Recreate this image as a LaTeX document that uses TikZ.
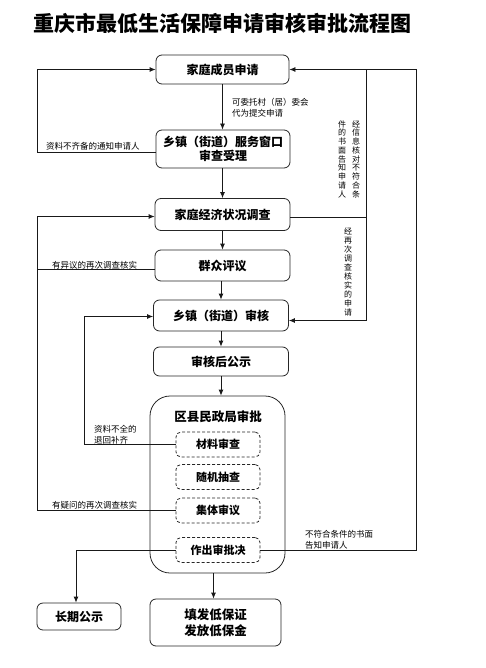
\documentclass[tikz,border=0pt]{standalone}
\usepackage{fontspec}
\setmainfont{Noto Sans CJK SC}
\usetikzlibrary{arrows.meta}
\tikzset{
 box/.style={draw=black!85, line width=0.8pt, rounded corners=6pt, align=center, inner sep=0pt,
   font=\bfseries\fontsize{12}{14}\selectfont},
 dbox/.style={draw=black!85, line width=0.8pt, dash pattern=on 3pt off 2pt, rounded corners=5pt,
   minimum width=84pt, minimum height=25pt, inner sep=0pt, font=\bfseries\fontsize{11}{13}\selectfont},
 lab/.style={font=\fontsize{8.5}{11}\selectfont, inner sep=0pt, align=left, anchor=west},
 vlab/.style={inner sep=0pt, align=center, text width=9pt},
 arr/.style={-{Latex[length=6pt,width=5pt]}, line width=0.8pt, draw=black!90},
 ln/.style={line width=0.8pt, draw=black!90}
}
\begin{document}
\begin{tikzpicture}[x=1pt,y=-1pt]
\useasboundingbox (0,0) rectangle (486,668);
\node[font=\bfseries\fontsize{21}{24}\selectfont, inner sep=0pt] (title) at (222,23) {重庆市最低生活保障申请审核审批流程图};

\node[box, minimum width=133pt, minimum height=29pt] (b1) at (222.5,69.5) {家庭成员申请};
\node[box, minimum width=134pt, minimum height=38pt] (b2) at (223,149) {乡镇（街道）服务窗口\\审查受理};
\node[box, minimum width=135pt, minimum height=32pt] (b3) at (222.5,214.5) {家庭经济状况调查};
\node[box, minimum width=135pt, minimum height=31pt] (b4) at (222.5,265.5) {群众评议};
\node[box, minimum width=135pt, minimum height=31pt] (b5) at (221,315.5) {乡镇（街道）审核};
\node[box, minimum width=135pt, minimum height=29pt] (b6) at (221,361.5) {审核后公示};
\node[draw=black!85, line width=0.8pt, rounded corners=20pt, minimum width=135pt, minimum height=177pt, inner sep=0pt] (big) at (217.5,484.5) {};
\node[font=\bfseries\fontsize{12.5}{14}\selectfont, inner sep=0pt] (bigt) at (218,417) {区县民政局审批};
\node[dbox] (d1) at (218,444.5) {材料审查};
\node[dbox] (d2) at (218,477) {随机抽查};
\node[dbox] (d3) at (218,510.5) {集体审议};
\node[dbox] (d4) at (218,550) {作出审批决};
\node[box, minimum width=84pt, minimum height=27pt] (long) at (79,616.5) {长期公示};
\node[box, minimum width=131pt, minimum height=47pt, font=\bfseries\fontsize{12.5}{16}\selectfont] (fa) at (215.5,622.5) {填发低保证\\发放低保金};

\coordinate (L1) at (37,0);
\coordinate (L3) at (84,0);
\coordinate (R1) at (366,0);
\coordinate (R2) at (416,0);

% main flow
\draw[arr] (b1.south) -- (b1.south |- b2.north);
\draw[arr] (b2.south -| b1.south) -- (b1.south |- b3.north);
\draw[arr] (b3.south) -- (b3.south |- b4.north);
\draw[arr] (b4.south -| b5.north) -- (b5.north);
\draw[arr] (b5.south) -- (b6.north);
\draw[arr] (b6.south) -- (b6.south |- big.north);
\draw[arr] ([xshift=-4pt]big.south) -- ([xshift=-4pt]big.south |- fa.north);
\draw[arr] (d4.west) -| ([xshift=-3pt]long.north);

% left loops
\draw[arr] ([yshift=-3pt]b2.west) -- ([yshift=-3pt]b2.west -| L1) |- (b1.west);
\draw[arr] (d3.west) -- (d3.west -| L1) |- ([yshift=-2pt]b3.west);
\draw[ln] ([yshift=-4pt]b4.west) -- ([yshift=-4pt]b4.west -| L1);
\draw[arr] (d1.west) -- (d1.west -| L3) |- ([yshift=-1pt]b5.west);

% right loops
\draw[arr] (d4.east) -- (d4.east -| R2) |- (b1.east);
\draw[ln] ([yshift=-3pt]b3.east) -- ([yshift=-3pt]b3.east -| R1) -- (R1 |- b1.east);
\draw[arr] ([yshift=-3pt]b3.east -| R1) |- ([yshift=-5pt]b5.east);

% labels
\node[lab] (t1) at (232,108) {可委托村（居）委会\\代为提交申请};
\node[lab] (t2) at (46,146) {资料不齐备的通知申请人};
\node[lab] (t3) at (52,265) {有异议的再次调查核实};
\node[lab] (t4) at (94,434.5) {资料不全的\\退回补齐};
\node[lab] (t5) at (52,505) {有疑问的再次调查核实};
\node[lab] (t6) at (305,539.5) {不符合条件的书面\\告知申请人};
\node[vlab, font=\fontsize{8}{8.75}\selectfont] (v1) at (356,159) {经\\信\\息\\核\\对\\不\\符\\合\\条};
\node[vlab, font=\fontsize{8}{8.75}\selectfont] (v2) at (342,159) {件\\的\\书\\面\\告\\知\\申\\请\\人};
\node[vlab, font=\fontsize{8}{9.1}\selectfont] (v3) at (348,272) {经\\再\\次\\调\\查\\核\\实\\的\\申\\请};
\end{tikzpicture}
\end{document}
